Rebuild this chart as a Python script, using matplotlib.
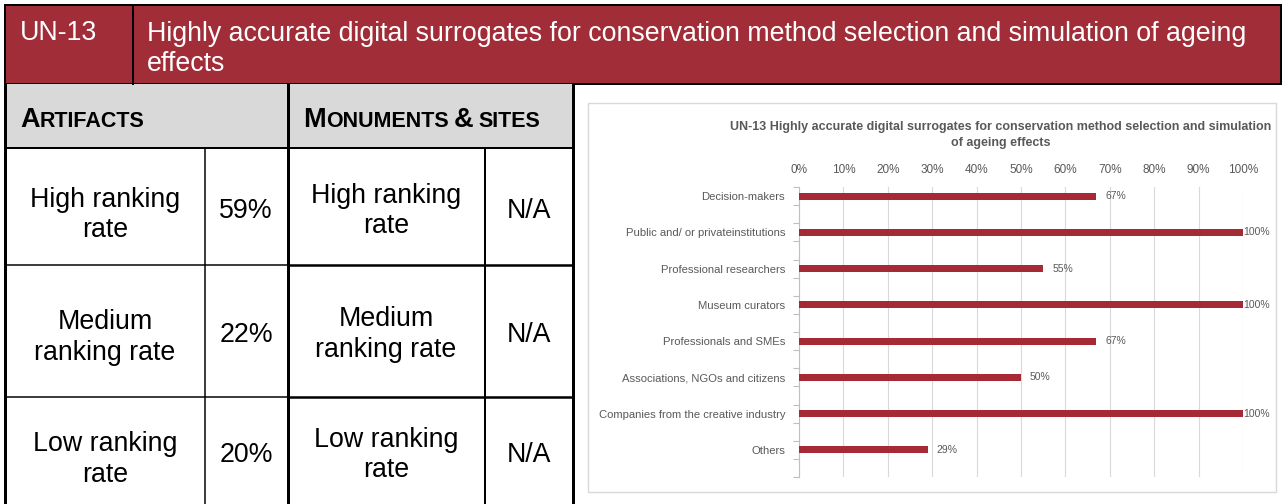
import matplotlib
matplotlib.use("Agg")
import matplotlib.pyplot as plt
from matplotlib.patches import Rectangle

# ---- content ----
need_id = "UN-13"
need_title = ("Highly accurate digital surrogates for conservation method selection and simulation of ageing\n"
              "effects")
rank_labels = ["High ranking\nrate", "Medium\nranking rate", "Low ranking\nrate"]
artifact_rates = ["59%", "22%", "20%"]
site_rates = ["N/A", "N/A", "N/A"]

groups = ["Decision-makers", "Public and/ or privateinstitutions", "Professional researchers",
          "Museum curators", "Professionals and SMEs", "Associations, NGOs and citizens",
          "Companies from the creative industry", "Others"]
shares = [67, 100, 55, 100, 67, 50, 100, 29]
chart_title = ("UN-13 Highly accurate digital surrogates for conservation method selection and simulation\n"
               "of ageing effects")

# ---- styles ----
W, H = 1285, 504
RED = "#A12D38"
BAR = "#A52A36"
LIGHT = "#D9D9D9"
GREY_TXT = "#595959"
SANS = ["Liberation Sans", "DejaVu Sans"]
BIG = 19.3


def px(v):
    # pixel widths -> points
    return v * 72 / 100


fig = plt.figure(figsize=(W / 100, H / 100), dpi=100)
bg = fig.add_axes([0, 0, 1, 1])
bg.set_xlim(0, W)
bg.set_ylim(H, 0)
bg.axis("off")

# header band
bg.add_patch(Rectangle((5, 5), 1276, 79, facecolor=RED, edgecolor="black", lw=px(2)))
bg.plot([133, 133], [5, 84], color="black", lw=px(2))
bg.text(20, 32.5, need_id, color="white", fontsize=BIG, family=SANS, va="center", ha="left")
bg.text(147, 49, need_title, color="white", fontsize=BIG, family=SANS, va="center", ha="left",
        linespacing=1.24)

# grey column headers
bg.add_patch(Rectangle((5, 84), 568, 64, facecolor=LIGHT, edgecolor="none"))

# grid lines of the table
thick, thin = px(3), px(1.5)
bg.plot([5, 5], [84, H], color="black", lw=thick)
bg.plot([288, 288], [84, H], color="black", lw=thick)
bg.plot([573, 573], [84, H], color="black", lw=thick)
bg.plot([205, 205], [148, H], color="black", lw=thin)
bg.plot([485, 485], [148, H], color="black", lw=px(2))
bg.plot([5, 573], [148, 148], color="black", lw=px(2))
for yl in (265, 397):
    bg.plot([5, 288], [yl, yl], color="black", lw=thin)
    bg.plot([288, 573], [yl, yl], color="black", lw=px(2.5))

# small-caps headings built from pieces
fig.canvas.draw()
renderer = fig.canvas.get_renderer()


def small_caps(x, base, parts):
    for txt, big, gap in parts:
        t = bg.text(x, base, txt, fontsize=19.5 if big else 15.5, fontweight="bold",
                    family=SANS, va="baseline", ha="left", color="black")
        x = t.get_window_extent(renderer).x1 + gap


small_caps(20, 127, [("A", True, 0), ("RTIFACTS", False, 0)])
small_caps(303, 127, [("M", True, 0), ("ONUMENTS", False, 5), ("&", True, 5), ("SITES", False, 0)])

# table cells
left_y = [215, 337.5, 459.5]
right_y = [211, 334.5, 455]
value_y = [211.5, 334.5, 454.5]
for i in range(len(rank_labels)):
    bg.text(105, left_y[i], rank_labels[i], fontsize=BIG, family=SANS, ha="center", va="center",
            multialignment="center", linespacing=1.24)
    bg.text(246, value_y[i], artifact_rates[i], fontsize=BIG, family=SANS, ha="center", va="center")
    bg.text(386, right_y[i], rank_labels[i], fontsize=BIG, family=SANS, ha="center", va="center",
            multialignment="center", linespacing=1.24)
    bg.text(529, value_y[i], site_rates[i], fontsize=BIG, family=SANS, ha="center", va="center")

# embedded chart frame
bg.add_patch(Rectangle((588, 103), 688, 389, facecolor="white", edgecolor=LIGHT, lw=1))
fig.text(1001 / W, 1 - 135 / H, chart_title, ha="center", va="center", fontsize=9,
         fontweight="bold", color=GREY_TXT, family=SANS, linespacing=1.4)

# each group sits in every other slot of the category axis
ax = fig.add_axes([799 / W, 1 - 477 / H, 444 / W, 290 / H])
pos = [2 * i for i in range(len(groups))]
n_slots = 2 * len(groups)
ax.barh(pos, shares, height=0.38, color=BAR, zorder=3)
ax.set_xlim(0, 100)
ax.set_ylim(n_slots - 0.5, -0.5)
ax.set_xticks(range(0, 101, 10))
ax.xaxis.set_major_formatter(lambda v, p: f"{v:.0f}%")
ax.xaxis.tick_top()
ax.tick_params(axis="x", length=0, pad=8, labelsize=8.5, labelcolor=GREY_TXT)
ax.set_yticks(pos, groups)
ax.set_yticks([s - 0.5 for s in range(n_slots + 1)], minor=True)
ax.tick_params(axis="y", which="major", length=0, pad=10, labelsize=8.1, labelcolor=GREY_TXT)
ax.tick_params(axis="y", which="minor", length=4, color="#BFBFBF", width=0.8)
for lab in ax.get_xticklabels() + ax.get_yticklabels():
    lab.set_family(SANS)
ax.grid(axis="x", color=LIGHT, lw=0.8, zorder=0)
for side in ("top", "right", "bottom"):
    ax.spines[side].set_visible(False)
ax.spines["left"].set_color("#BFBFBF")
ax.spines["left"].set_linewidth(0.8)
ax.set_facecolor("none")

for p, v in zip(pos, shares):
    ax.text(min(v + 2, 100), p, f"{v}%", va="center", ha="left", fontsize=7.5,
            color=GREY_TXT, family=SANS, clip_on=False, zorder=4)

fig.savefig("out.png", dpi=100)
